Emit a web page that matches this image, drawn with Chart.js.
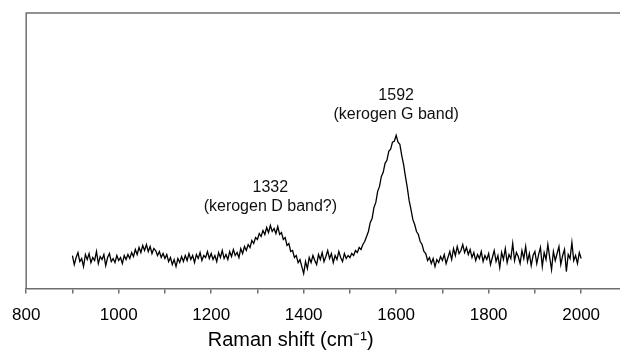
<!DOCTYPE html>
<html>
<head>
<meta charset="utf-8">
<script src="https://cdn.jsdelivr.net/npm/chart.js@4/dist/chart.umd.min.js"></script>
<style>
  html, body { margin: 0; padding: 0; background: #fff; }
  #chart { display: block; }
</style>
</head>
<body>
<canvas id="chart" width="620" height="363"></canvas>
<script>
// Raman shift start / step (cm-1) and intensity (arb. units)
const shiftStart = 900;
const shiftStep = 4;
const intensity = [
  // 900 - 996
  33, 24, 31, 36, 27, 30, 22, 34, 29, 35, 26, 31, 28, 37, 25, 32, 29, 34, 23, 31, 35, 27, 30, 26, 33,
  // 1000 - 1096
  28, 31, 25, 33, 29, 34, 30, 36, 32, 39, 34, 41, 36, 43, 38, 44, 37, 42, 35, 40, 38, 33, 37, 31, 35,
  // 1100 - 1196
  30, 34, 27, 31, 24, 29, 22, 30, 26, 32, 27, 33, 28, 35, 29, 33, 26, 34, 30, 36, 28, 33, 31, 37, 30,
  // 1200 - 1296
  35, 29, 33, 27, 36, 31, 38, 30, 34, 29, 37, 32, 39, 33, 36, 31, 40, 35, 42, 38, 44, 41, 48, 45, 51,
  // 1300 - 1396
  49, 55, 52, 58, 54, 61, 56, 63, 57, 60, 55, 62, 54, 56, 49, 51, 43, 45, 37, 38, 31, 33, 26, 29, 22,
  // 1400 - 1496
  15, 27, 20, 31, 26, 33, 28, 24, 34, 29, 36, 27, 32, 38, 30, 35, 26, 33, 29, 37, 31, 27, 35, 30, 33,
  // 1500 - 1596
  31, 35, 33, 38, 36, 41, 39, 44, 47, 52, 57, 66, 70, 81, 86, 97, 102, 112, 116, 125, 128, 137, 139, 146, 147,
  // 1600 - 1696
  153, 146, 144, 133, 124, 112, 101, 88, 79, 69, 64, 57, 54, 47, 44, 37, 35, 28, 31, 25, 30, 22, 29, 26, 32,
  // 1700 - 1796
  28, 34, 25, 31, 37, 29, 40, 33, 42, 35, 38, 44, 36, 41, 34, 39, 31, 36, 28, 34, 30, 37, 27, 33, 29,
  // 1800 - 1896
  35, 24, 31, 38, 27, 33, 21, 36, 29, 40, 26, 34, 30, 45, 28, 36, 32, 25, 38, 30, 42, 27, 35, 23, 33,
  // 1900 - 1996
  37, 25, 34, 41, 22, 36, 29, 44, 31, 19, 37, 28, 35, 42, 24, 33, 39, 17, 34, 30, 46, 28, 33, 25, 36,
  // 2000
  30
];

// peak labels
const peakNames = ["1332", "1592"];
const peakNotes = ["(kerogen D band?)", "(kerogen G band)"];
const peakLabelX = [1328, 1600];
const peakLabelY = [101, 193];

const xTitle = "Raman shift (cm\u207B\u00B9)";

const points = intensity.map((v, i) => ({ x: shiftStart + i * shiftStep, y: v }));

const FONT = "'Liberation Sans', Arial, sans-serif";

const framePlugin = {
  id: "frame",
  beforeDatasetsDraw(chart) {
    const { ctx, chartArea } = chart;
    ctx.save();
    ctx.strokeStyle = "#6e6e6e";
    ctx.lineWidth = 1.5;
    ctx.beginPath();
    ctx.moveTo(chartArea.left, chartArea.bottom);
    ctx.lineTo(chartArea.left, chartArea.top);
    ctx.lineTo(chartArea.right, chartArea.top);
    ctx.stroke();
    ctx.restore();
  }
};

const labelPlugin = {
  id: "peakLabels",
  afterDatasetsDraw(chart) {
    const { ctx, scales, chartArea } = chart;
    ctx.save();
    ctx.fillStyle = "#111";
    ctx.font = "16px " + FONT;
    ctx.textAlign = "center";
    ctx.textBaseline = "middle";
    peakNames.forEach((name, i) => {
      const px = scales.x.getPixelForValue(peakLabelX[i]);
      const py = scales.y.getPixelForValue(peakLabelY[i]);
      ctx.fillText(name, px, py);
      ctx.fillText(peakNotes[i], px, py + 19);
    });
    // x axis title
    ctx.fillStyle = "#000";
    ctx.font = "20px " + FONT;
    ctx.fillText(xTitle, scales.x.getPixelForValue(1372), chartArea.bottom + 52);
    ctx.restore();
  }
};

new Chart(document.getElementById("chart").getContext("2d"), {
  type: "line",
  data: {
    datasets: [{
      data: points,
      borderColor: "#000",
      borderWidth: 1.3,
      pointRadius: 0,
      tension: 0
    }]
  },
  options: {
    responsive: false,
    animation: false,
    devicePixelRatio: 1,
    layout: { padding: { left: 26, top: 13, right: 0, bottom: 25 } },
    plugins: {
      legend: { display: false },
      tooltip: { enabled: false }
    },
    scales: {
      x: {
        type: "linear",
        min: 800,
        max: 2084,
        ticks: {
          stepSize: 100,
          includeBounds: false,
          autoSkip: false,
          maxRotation: 0,
          padding: 12,
          color: "#000",
          font: { family: FONT, size: 17 },
          callback: (v) => (v % 200 === 0 ? v : "")
        },
        grid: {
          drawOnChartArea: false,
          tickLength: 5,
          color: "#6e6e6e",
          lineWidth: 1.5
        },
        border: { color: "#6e6e6e", width: 1.5 }
      },
      y: {
        display: false,
        min: 0,
        max: 275
      }
    }
  },
  plugins: [framePlugin, labelPlugin]
});
</script>
</body>
</html>
